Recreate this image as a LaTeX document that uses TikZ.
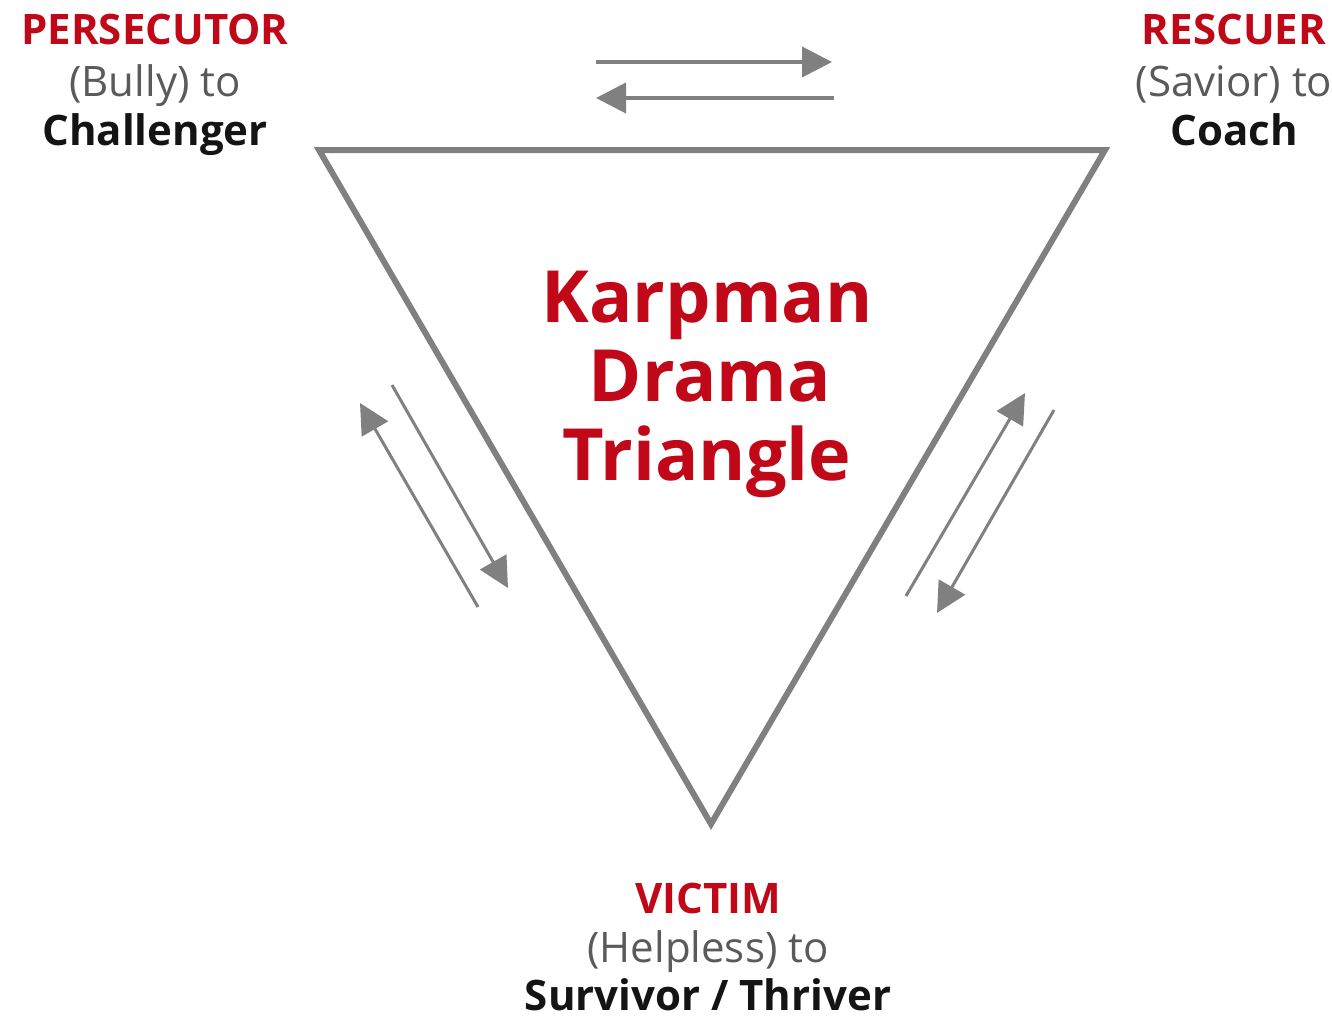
\documentclass[tikz,border=0pt]{standalone}
\usepackage{fontspec}
\setmainfont{Open Sans}
\usetikzlibrary{arrows.meta}
\definecolor{kred}{RGB}{192,8,24}
\definecolor{kgray}{RGB}{128,128,128}
\definecolor{tgray}{RGB}{90,90,90}
\definecolor{tblack}{RGB}{20,20,20}
\tikzset{
  edgeline/.style={draw=kgray, line width=6pt, line join=miter},
  flowarrow/.style={draw=kgray, line width=3pt, -{Triangle[length=30pt,width=30pt]}},
  toparrow/.style={draw=kgray, line width=4pt, -{Triangle[length=30pt,width=30pt]}},
  rolename/.style={font=\bfseries\fontsize{42}{48}\selectfont, text=kred, anchor=base, inner sep=0pt},
  oldname/.style={font=\fontsize{42}{48}\selectfont, text=tgray, anchor=base, inner sep=0pt},
  newname/.style={font=\bfseries\fontsize{42}{48}\selectfont, text=tblack, anchor=base, inner sep=0pt},
  titleline/.style={font=\bfseries\fontsize{72}{80}\selectfont, text=kred, anchor=base, inner sep=0pt}
}
\begin{document}
\begin{tikzpicture}[x=1pt,y=-1pt]
\useasboundingbox (0,0) rectangle (1332,1022);
% triangle corners
\coordinate (P) at (319,150);
\coordinate (R) at (1105,150);
\coordinate (V) at (711,824);
\draw[edgeline] (P) -- (R) -- (V) -- cycle;
% arrow ends
\coordinate (t1s) at (596,62);  \coordinate (t1e) at (832,62);
\coordinate (t2s) at (834,98);  \coordinate (t2e) at (596,98);
\coordinate (l1s) at (478,607); \coordinate (l1e) at (360,403);
\coordinate (l2s) at (392,385); \coordinate (l2e) at (508,588);
\coordinate (r1s) at (906,596); \coordinate (r1e) at (1025,393);
\coordinate (r2s) at (1054,410); \coordinate (r2e) at (937,613);
\draw[toparrow] (t1s) -- (t1e);
\draw[toparrow] (t2s) -- (t2e);
\draw[flowarrow] (l1s) -- (l1e);
\draw[flowarrow] (l2s) -- (l2e);
\draw[flowarrow] (r1s) -- (r1e);
\draw[flowarrow] (r2s) -- (r2e);
% persecutor
\node[rolename] (pers) at (155,45) {PERSECUTOR};
\node[oldname] (bully) at (155,97) {(Bully) to};
\node[newname] (chal) at (155,146) {Challenger};
% rescuer
\node[rolename] (resc) at (1234,45) {RESCUER};
\node[oldname] (savior) at (1234,97) {(Savior) to};
\node[newname] (coach) at (1234,146) {Coach};
% victim
\node[rolename] (vict) at (708,913) {VICTIM};
\node[oldname] (help) at (708,962) {(Helpless) to};
\node[newname] (surv) at (708,1010) {Survivor / Thriver};
% title
\node[titleline] (k1) at (707,322) {Karpman};
\node[titleline] (k2) at (710,401) {Drama};
\node[titleline] (k3) at (707,480) {Triangle};
\end{tikzpicture}
\end{document}
